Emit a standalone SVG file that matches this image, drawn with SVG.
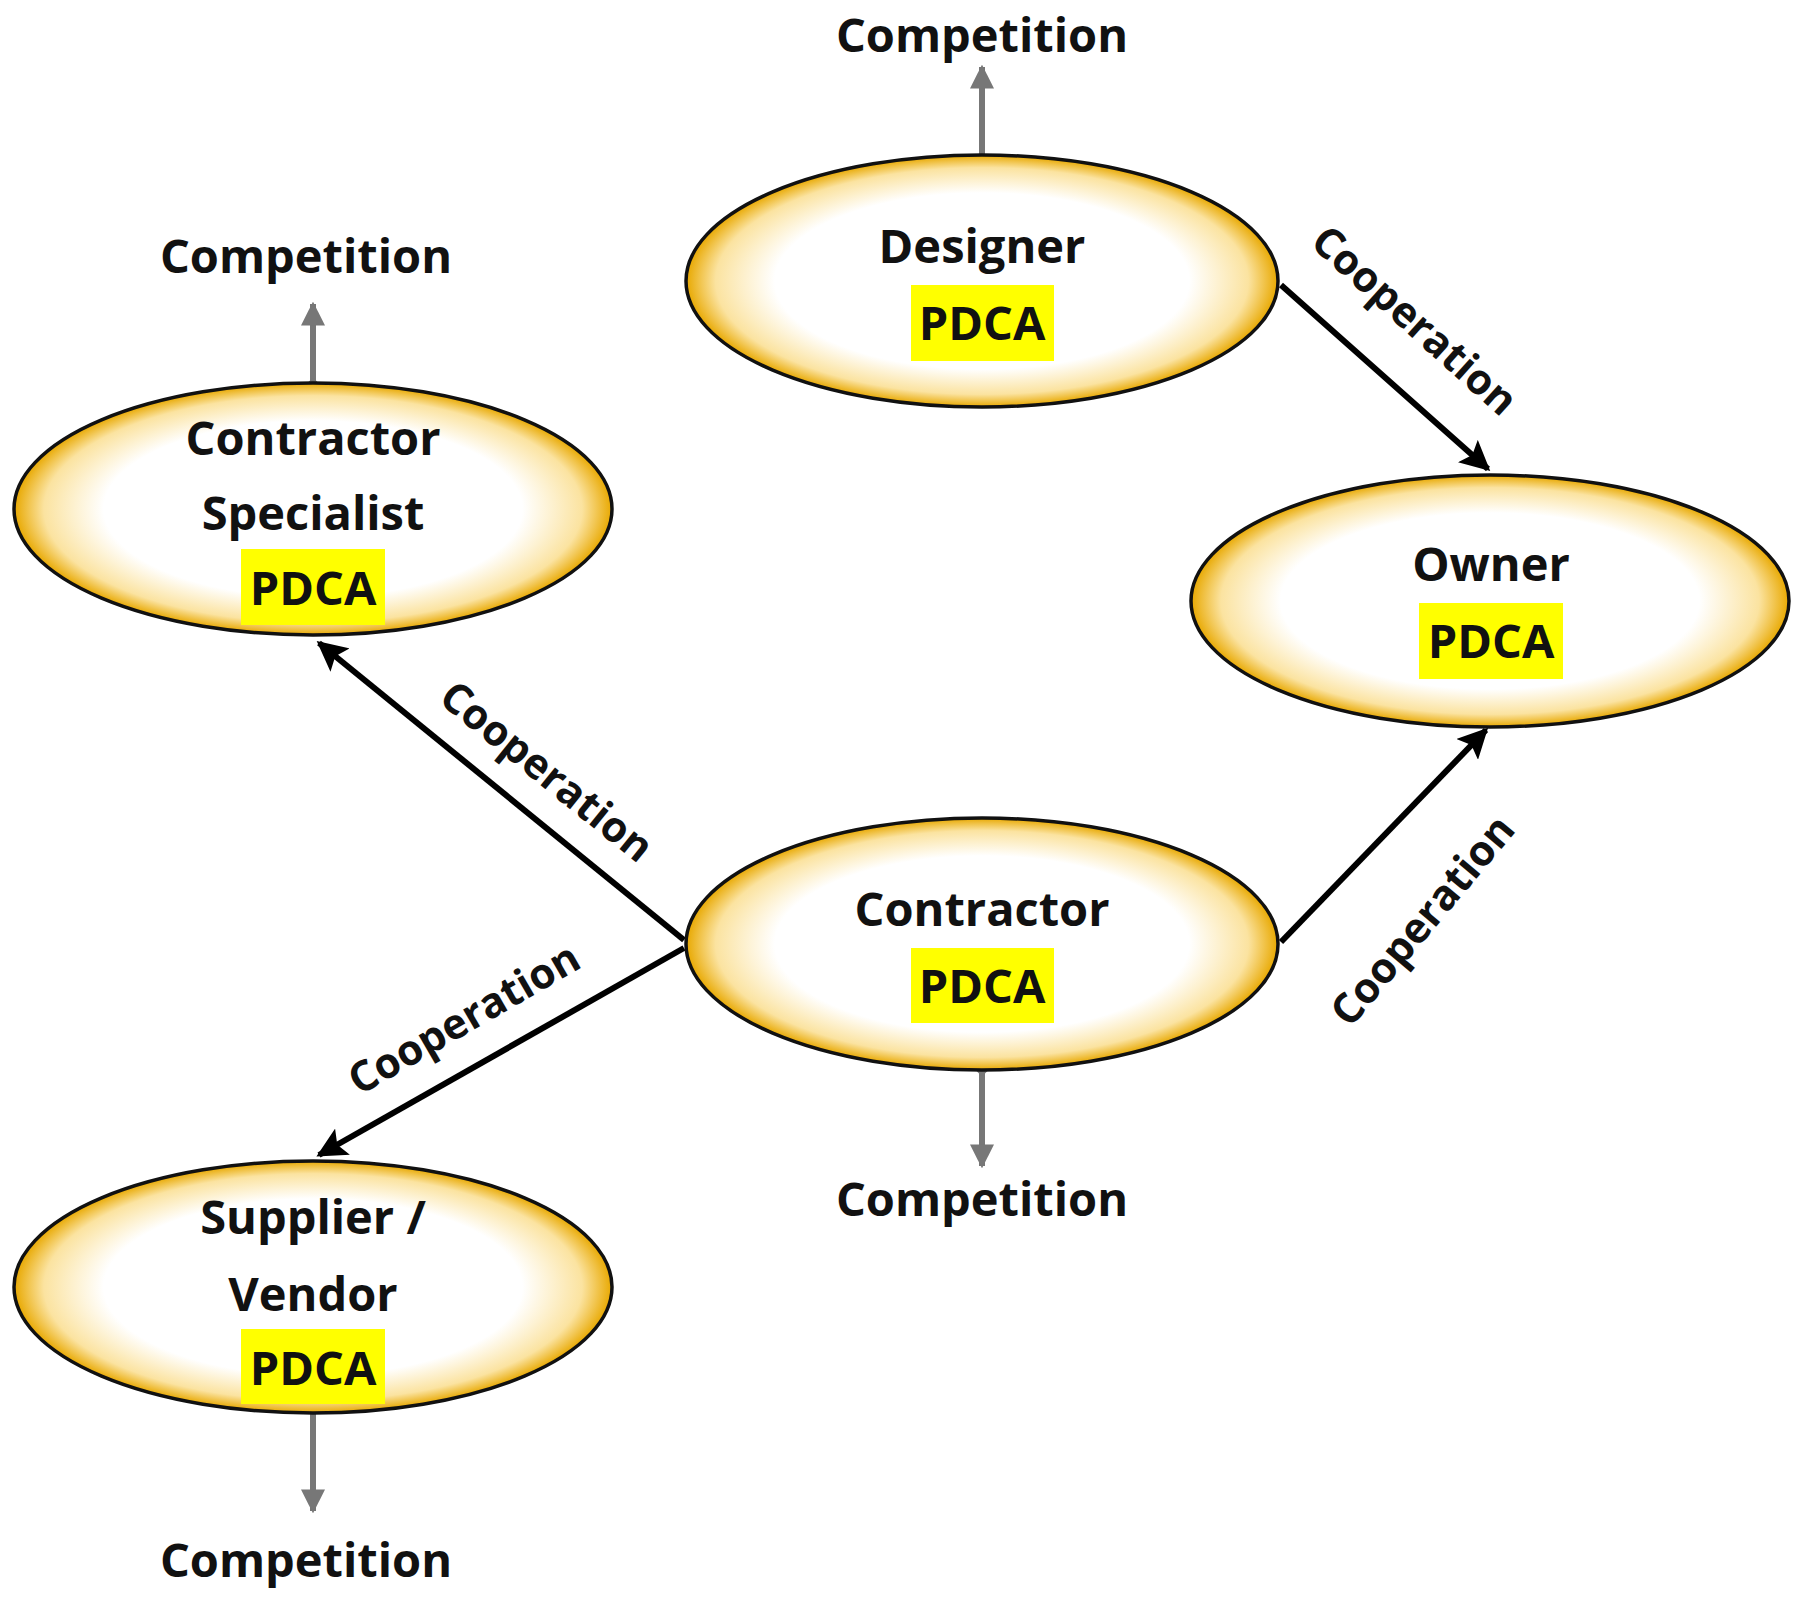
<svg xmlns="http://www.w3.org/2000/svg" width="1802" height="1597" viewBox="0 0 1802 1597">
<style>
.t{font-family:"Open Sans","Liberation Sans",sans-serif;font-weight:bold;font-size:47px;fill:#111;text-anchor:middle;dominant-baseline:central}
.c{font-family:"Open Sans","Liberation Sans",sans-serif;font-weight:bold;font-size:42px;fill:#111;text-anchor:middle;dominant-baseline:central}
.e{fill:url(#g);stroke:#111;stroke-width:3.5}
.hl{fill:#ffff00}
.k{stroke:#000;stroke-width:6;fill:none;marker-end:url(#ab)}
.gr{stroke:#777;stroke-width:6;fill:none;marker-end:url(#ag);marker-start:url(#dg)}
</style>
<defs>
<radialGradient id="g" cx="50%" cy="50%" r="50%">
<stop offset="0.7" stop-color="#ffffff"/>
<stop offset="0.9" stop-color="#fbe3a0"/>
<stop offset="1" stop-color="#e8a800"/>
</radialGradient>
<marker id="ab" viewBox="0 0 10 10" refX="9" refY="5" markerWidth="5" markerHeight="5" orient="auto" markerUnits="strokeWidth"><path d="M0,0L10,5L0,10L2,5z" fill="#000"/></marker>
<marker id="ag" viewBox="0 0 10 10" refX="9" refY="5" markerWidth="4" markerHeight="4" orient="auto" markerUnits="strokeWidth"><path d="M0,0L10,5L0,10z" fill="#777"/></marker>
<marker id="dg" viewBox="0 0 10 10" refX="5" refY="5" markerWidth="2.5" markerHeight="2.5" orient="auto" markerUnits="strokeWidth"><path d="M0,5L5,0L10,5L5,10z" fill="#777"/></marker>
</defs>
<g id="connectors">
<line class="k" x1="1281" y1="285" x2="1488" y2="469"/>
<line class="k" x1="684" y1="940" x2="319" y2="643"/>
<line class="k" x1="1281" y1="942" x2="1486" y2="730"/>
<line class="k" x1="684" y1="948" x2="319" y2="1155"/>
<line class="gr" x1="982" y1="161" x2="982" y2="67"/>
<line class="gr" x1="313" y1="385" x2="313" y2="304"/>
<line class="gr" x1="982" y1="1069" x2="982" y2="1166"/>
<line class="gr" x1="313" y1="1408" x2="313" y2="1511"/>
<text class="c" transform="translate(1416,319) rotate(42)">Cooperation</text>
<text class="c" transform="translate(548,770) rotate(39)">Cooperation</text>
<text class="c" transform="translate(463,1017) rotate(-30)">Cooperation</text>
<text class="c" transform="translate(1421,919) rotate(-50)">Cooperation</text>
<text class="t" x="982" y="34">Competition</text>
<text class="t" x="306" y="255">Competition</text>
<text class="t" x="982" y="1198">Competition</text>
<text class="t" x="306" y="1559">Competition</text>
</g>
<g id="designer">
<ellipse class="e" cx="982" cy="281" rx="296" ry="126"/>
<rect class="hl" x="911" y="285" width="143" height="76"/>
<text class="t" x="982" y="245">Designer</text>
<text class="t" x="982" y="322">PDCA</text>
</g>
<g id="specialist">
<ellipse class="e" cx="313" cy="509" rx="299" ry="126"/>
<rect class="hl" x="241" y="549" width="144" height="76"/>
<text class="t" x="313" y="437">Contractor</text>
<text class="t" x="313" y="512">Specialist</text>
<text class="t" x="313" y="587">PDCA</text>
</g>
<g id="owner">
<ellipse class="e" cx="1490" cy="601" rx="299" ry="126"/>
<rect class="hl" x="1419" y="603" width="144" height="76"/>
<text class="t" x="1491" y="563">Owner</text>
<text class="t" x="1491" y="640">PDCA</text>
</g>
<g id="contractor">
<ellipse class="e" cx="982" cy="944" rx="296" ry="126"/>
<rect class="hl" x="911" y="948" width="143" height="75"/>
<text class="t" x="982" y="908">Contractor</text>
<text class="t" x="982" y="985">PDCA</text>
</g>
<g id="supplier">
<ellipse class="e" cx="313" cy="1287" rx="299" ry="126"/>
<rect class="hl" x="241" y="1329" width="144" height="75"/>
<text class="t" x="313" y="1216">Supplier /</text>
<text class="t" x="313" y="1293">Vendor</text>
<text class="t" x="313" y="1367">PDCA</text>
</g>
</svg>
